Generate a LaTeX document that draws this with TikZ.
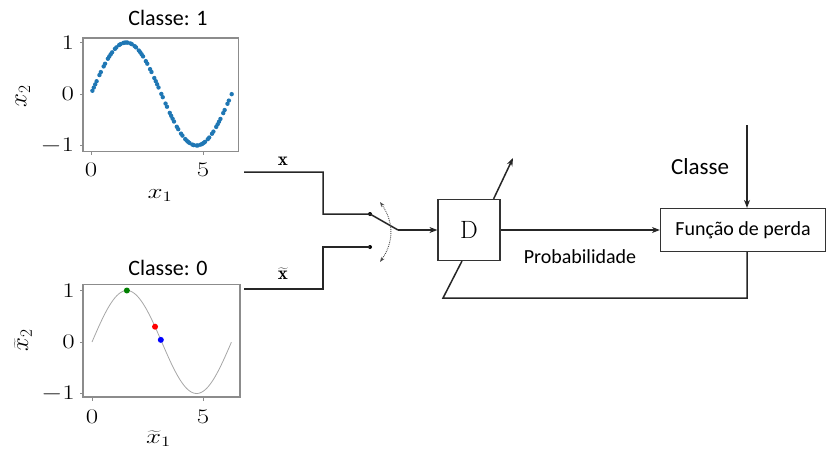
\documentclass[tikz,border=0pt]{standalone}
\usepackage{fontspec}
\setsansfont{Carlito}
\usetikzlibrary{arrows.meta}
\definecolor{mplblue}{HTML}{1F77B4}
\begin{document}
\begin{tikzpicture}[
    x=1pt, y=-1pt,
    line/.style     = {draw, line width=1.5pt, black!85},
    arr/.style      = {line, -{Stealth[length=8pt,width=6pt]}},
    blockD/.style   = {draw=black!80, line width=1.2pt, minimum width=62pt, minimum height=61pt, inner sep=0pt},
    lossbox/.style  = {draw=black!80, line width=1.2pt, minimum width=165pt, minimum height=43pt, inner sep=0pt},
    lab/.style      = {font=\sffamily\fontsize{22}{26}\selectfont, inner sep=0pt},
    smalllab/.style = {font=\sffamily\fontsize{20}{24}\selectfont, inner sep=0pt},
    tick/.style     = {font=\fontsize{21}{24}\selectfont, inner sep=0pt, xscale=1.3},
    ylab/.style     = {font=\fontsize{24}{28}\selectfont, inner sep=0pt, rotate=90},
    frame/.style    = {draw=black!45, line width=1.3pt},
    pin/.style      = {circle, fill=black, inner sep=0pt, minimum size=4pt}
    ]
    \useasboundingbox (0,0) rectangle (826,455);

      % top plot -------------------------------------------------
      \node[lab] (title1) at (168,18) {Classe: 1};
      \begin{scope}[shift={(91,94)}, x=22.4pt, y=51.5pt]
        \draw[frame] (-0.36,-1.11) rectangle (6.6,1.09);
        \foreach \v in {-1,0,1} \draw[black!45, line width=1pt] (-0.36,\v) -- ++(-0.15,0);
        \foreach \u in {0,5} \draw[black!45, line width=1pt] (\u,-1.11) -- ++(0,-0.07);
        \foreach \i in {0,...,100}{
          \pgfmathtruncatemacro\skip{mod(\i*7,11)}
          \ifnum\skip>2
            \pgfmathsetmacro\t{\i*0.0628}
            \fill[mplblue] (\t,{sin(\t r)}) circle[radius=2.2pt];
          \fi}
        \node[tick, anchor=east] (t1a) at (-0.75,1) {$1$};
        \node[tick, anchor=east] (t1b) at (-0.75,0) {$0$};
        \node[tick, anchor=east] (t1c) at (-0.75,-1) {$-1$};
        \node[tick] (t1d) at (0,-1.47) {$0$};
        \node[tick] (t1e) at (5,-1.47) {$5$};
        \node[tick] (xlab1) at (3.08,-1.97) {$x_1$};
      \end{scope}
      \node[ylab] (ylab1) at (23,96) {$x_2$};

      % bottom plot ----------------------------------------------
      \node[lab] (title0) at (168,268) {Classe: 0};
      \begin{scope}[shift={(92,342)}, x=22.2pt, y=51.5pt]
        \draw[frame] (-0.4,-1.07) rectangle (6.67,1.11);
        \foreach \v in {-1,0,1} \draw[black!45, line width=1pt] (-0.4,\v) -- ++(-0.15,0);
        \foreach \u in {0,5} \draw[black!45, line width=1pt] (\u,-1.07) -- ++(0,-0.07);
        \draw[black!35, line width=0.8pt, domain=0:6.28, samples=80, smooth] plot (\x,{sin(\x r)});
        \fill[green!50!black] (1.5708,1) circle[radius=3pt];
        \fill[red] (2.84,{sin(2.84 r)}) circle[radius=3pt];
        \fill[blue] (3.1,{sin(3.1 r)}) circle[radius=3pt];
        \node[tick, anchor=east] (t0a) at (-0.77,1) {$1$};
        \node[tick, anchor=east] (t0b) at (-0.77,0) {$0$};
        \node[tick, anchor=east] (t0c) at (-0.77,-1) {$-1$};
        \node[tick] (t0d) at (0,-1.45) {$0$};
        \node[tick] (t0e) at (5,-1.45) {$5$};
        \node[tick] (xlab0) at (3.0,-1.88) {$\widetilde{x}_1$};
      \end{scope}
      \node[ylab] (ylab0) at (23,340) {$\widetilde{x}_2$};

      % switch ---------------------------------------------------
      \coordinate (xin)   at (244,172);
      \coordinate (xa)    at (323,172);
      \coordinate (xb)    at (323,214);
      \node[pin] (sw1) at (370,214) {};
      \coordinate (xtin)  at (244,289);
      \coordinate (xta)   at (323,289);
      \coordinate (xtb)   at (323,247);
      \node[pin] (sw0) at (370,247) {};
      \coordinate (swout) at (398,230);
      \node[font=\fontsize{19}{22}\selectfont, inner sep=0pt] (xl)  at (283,161) {$\mathbf{x}$};
      \node[font=\fontsize{19}{22}\selectfont, inner sep=0pt] (xtl) at (283,274) {$\widetilde{\mathbf{x}}$};

      \draw[line] (xin) -- (xa) -- (xb) -- (sw1.center) -- (swout);
      \draw[line] (xtin) -- (xta) -- (xtb) -- (sw0.center);
      \draw[densely dotted, line width=0.9pt, black!70, {Stealth[length=5pt]}-{Stealth[length=5pt]}]
            (380,202) .. controls (394,222) and (394,242) .. (380,262);

      % blocks ---------------------------------------------------
      \node[blockD, font=\fontsize{25}{28}\selectfont] (D) at (469,230) {D};
      \node[lossbox, smalllab, font=\sffamily\fontsize{20}{24}\selectfont] (loss) at (743,230) {Função de perda};
      \node[smalllab] (prob) at (580,257) {Probabilidade};
      \node[lab, font=\sffamily\fontsize{23}{26}\selectfont] (cls) at (700,167) {Classe};
      \coordinate (upout) at (513,158);
      \coordinate (clsin) at (747,125);
      \coordinate (fb1)   at (443,298);
      \coordinate (fb2)   at (747,298);

      % edges ----------------------------------------------------
      \draw[arr] (swout) -- (D.west);
      \draw[arr] (D.east) -- (loss.west);
      \draw[arr] (D.north east) ++(-7,0) -- (upout);
      \draw[arr] (clsin) -- (clsin |- loss.north);
      \draw[line] (clsin |- loss.south) -- (fb2) -- (fb1) -- (462,261);
\end{tikzpicture}
\end{document}
